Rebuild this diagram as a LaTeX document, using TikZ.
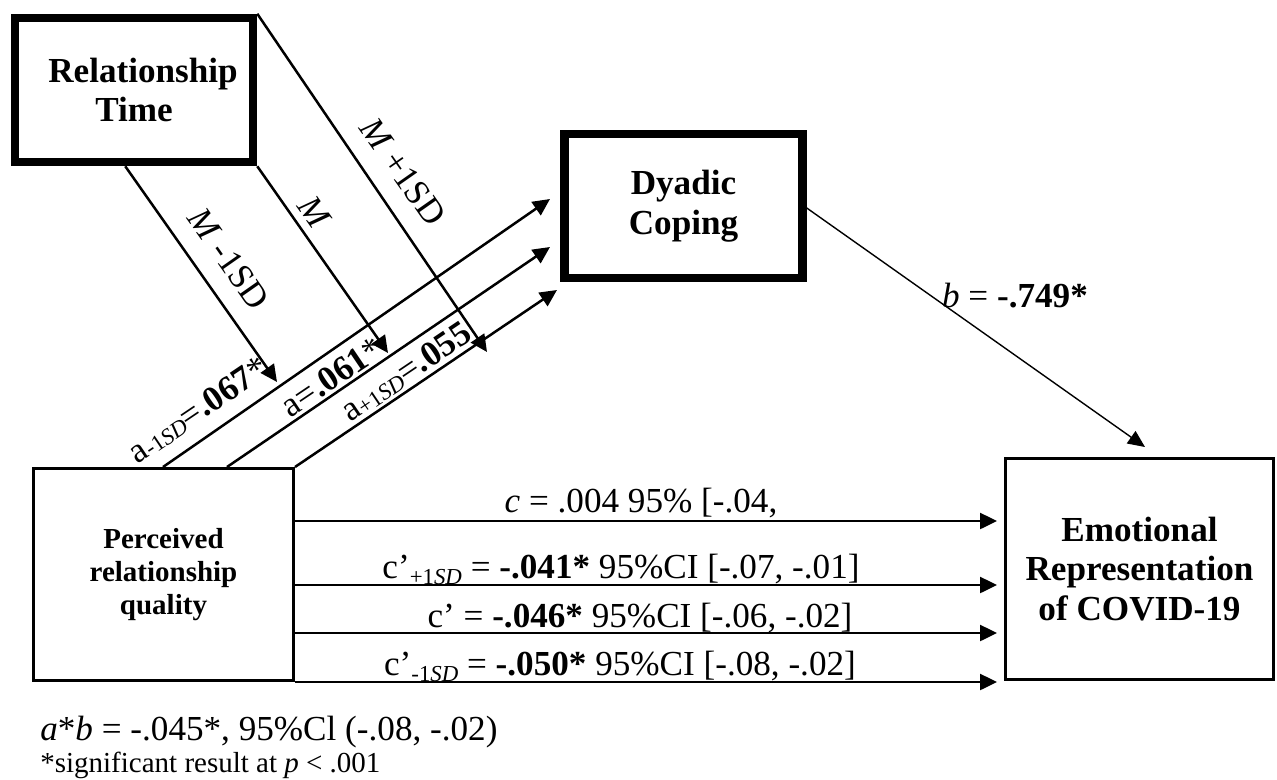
\documentclass[tikz,border=0pt]{standalone}
\usepackage{fontspec}
\setmainfont{Liberation Serif}
\usetikzlibrary{arrows.meta,positioning,calc}
\newcommand{\lowsub}[2][-0.18em]{\raisebox{#1}{\fontsize{13}{13}\selectfont #2}}

\begin{document}
\begin{tikzpicture}[
  mod/.style={draw, line width=0.17cm, minimum width=4.76cm, minimum height=2.88cm,
    inner sep=0pt, align=center, font=\fontsize{20}{22.5}\selectfont\bfseries},
  var/.style={draw, line width=0.06cm, inner sep=0pt, align=center},
  lab/.style={font=\fontsize{20}{22}\selectfont, inner sep=0pt},
  arr/.style={-{Triangle[length=3.4mm,width=3.2mm]}, line width=0.05cm},
  arrthin/.style={-{Triangle[length=3.4mm,width=3mm]}, line width=0.028cm}
]
  \useasboundingbox (0,0) rectangle (25.54,-15.58);

  \node[mod] (rt) at (2.68,-1.80) {\hspace*{0.36cm}Relationship\\Time};
  \node[mod] (dc) at (13.67,-4.12) {Dyadic\\Coping};
  \node[var, minimum width=5.2cm, minimum height=4.24cm,
    font=\fontsize{16.5}{19}\selectfont\bfseries] (pq) at (3.27,-11.49)
    {Perceived\\relationship\\quality};
  \node[var, minimum width=5.36cm, minimum height=4.43cm,
    font=\fontsize{20}{22.5}\selectfont\bfseries] (em) at (22.79,-11.38)
    {Emotional\\Representation\\of COVID-19};

  % moderator arrow ends
  \coordinate (mlow)  at (5.54,-7.64);
  \coordinate (mmean) at (7.76,-7.06);
  \coordinate (mhigh) at (9.74,-7.04);

  \draw[arr] ([xshift=-2.64cm]rt.south east) -- (mlow);
  \draw[arr] (rt.south east) -- (mmean);
  \draw[arr] (rt.north east) -- (mhigh);

  \node[lab, rotate=-55] (lmlow)  at (4.58,-5.18) {\textit{M} -1SD};
  \node[lab, rotate=-55] (lmmean) at (6.3,-4.26)  {\textit{M}};
  \node[lab, rotate=-55] (lmhigh) at (8.06,-3.44) {\textit{M} +1SD};

  % a paths
  \draw[arr] ([xshift=2.62cm]pq.north west) -- ([shift={(-0.205,0.14)}]dc.west);
  \draw[arr] ([xshift=3.9cm]pq.north west) -- ([shift={(-0.205,-0.82)}]dc.west);
  \draw[arr] (pq.north east) -- ([shift={(-0.065,-1.68)}]dc.west);

  \node[lab, rotate=34] (alow)  at (3.96,-8.2)
    {a\lowsub[-0.05em]{-1\textit{SD}}=\textbf{.067}*};
  \node[lab, rotate=34] (amean) at (6.64,-7.54) {a=\textbf{.061}*};
  \node[lab, rotate=34] (ahigh) at (8.12,-7.44)
    {a\lowsub[-0.05em]{+1\textit{SD}}=\textbf{.055}};

  % b path
  \draw[arrthin] ([yshift=-0.04cm]dc.east) -- ([shift={(0.11,0.195)}]em.north);
  \node[lab, anchor=base] (blab) at (20.3,-6.14) {\textit{b} = \textbf{-.749*}};

  % c paths
  \coordinate (c1) at (19.94,-10.42);
  \coordinate (c2) at (19.94,-11.7);
  \coordinate (c3) at (19.94,-12.66);
  \coordinate (c4) at (19.94,-13.64);
  \draw[arr] (pq.east |- c1) -- (c1);
  \draw[arr] (pq.east |- c2) -- (c2);
  \draw[arr] (pq.east |- c3) -- (c3);
  \draw[arr] (pq.east |- c4) -- (c4);

  \node[lab, anchor=base] (ctot) at (12.82,-10.24) {\textit{c} = .004 95\% [-.04,};
  \node[lab, anchor=base] (chigh) at (12.42,-11.56)
    {c'\lowsub{+1\textit{SD}} = \textbf{-.041*} 95\%CI [-.07, -.01]};
  \node[lab, anchor=base] (cmean) at (12.8,-12.54)
    {c' = \textbf{-.046*} 95\%CI [-.06, -.02]};
  \node[lab, anchor=base] (clow) at (12.4,-13.5)
    {c'\lowsub{-1\textit{SD}} = \textbf{-.050*} 95\%CI [-.08, -.02]};

  % notes
  \node[lab, anchor=base west] (ind) at (0.8,-14.8)
    {\textit{a}*\textit{b} = -.045*, 95\%Cl (-.08, -.02)};
  \node[lab, anchor=base west, font=\fontsize{16.5}{18}\selectfont] (sig) at (0.8,-15.44)
    {*significant result at \textit{p} < .001};
\end{tikzpicture}
\end{document}
